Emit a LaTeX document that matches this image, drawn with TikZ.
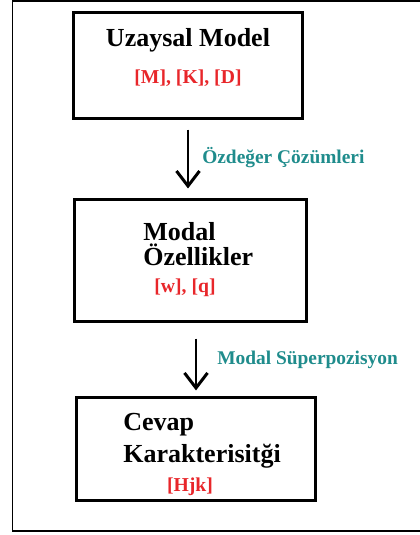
\documentclass[tikz,border=0pt]{standalone}
\usepackage{fontspec}
\setmainfont{Liberation Serif}
\usetikzlibrary{arrows.meta}
\definecolor{matred}{HTML}{E8262A}
\definecolor{stepteal}{HTML}{1F8C8C}
\tikzset{
  stagebox/.style={draw, line width=2.13pt, minimum width=#1},
  title/.style={font=\bfseries\fontsize{18.5}{20}\selectfont, inner sep=0pt},
  matrices/.style={text=matred, font=\bfseries\fontsize{14}{16}\selectfont, inner sep=0pt},
  steplabel/.style={text=stepteal, font=\bfseries\fontsize{13.8}{16}\selectfont, inner sep=0pt, anchor=west},
  flow/.style={line width=2.13pt, -{Straight Barb[length=10.7pt, width=16.4pt, line width=2.13pt]}}
}
\begin{document}
\begin{tikzpicture}[x=0.025cm, y=-0.025cm]
\useasboundingbox (0,0) rectangle (420,535);
\draw[line width=1.42pt] (12.5,1) rectangle (425,531);
% boxes
\node[stagebox=162.2pt, minimum height=74.7pt] (uzay) at (188,65.5){};
\node[stagebox=164.3pt, minimum height=86.1pt] (modal) at (190.5,260.5){};
\node[stagebox=169.3pt, minimum height=72.6pt] (cevap) at (196,449){};
% texts
\node[title] (uzayt) at (188,40){Uzaysal Model};
\node[matrices] (uzaym) at (188,78){[M], [K], [D]};
\node[title, anchor=west, align=left, font=\bfseries\fontsize{18.5}{17.7}\selectfont] (modalt) at (143,244.5){Modal\\Özellikler};
\node[matrices] (modalm) at (185,288){[w], [q]};
\node[title, anchor=west, align=left, font=\bfseries\fontsize{18.5}{22.7}\selectfont] (cevapt) at (123,441){Cevap\\Karakterisitği};
\node[matrices] (cevapm) at (190,487){[Hjk]};
% arrows
\draw[flow, shorten <=7.1pt, shorten >=7.1pt] (uzay.south) -- (uzay.south |- modal.north);
\node[steplabel] (ozd) at (202,158){Özdeğer Çözümleri};
\draw[flow, shorten <=11.4pt, shorten >=4.3pt] (modal.south -| cevap.north) -- (cevap.north);
\node[steplabel] (sup) at (217,360){Modal Süperpozisyon};
\end{tikzpicture}
\end{document}
